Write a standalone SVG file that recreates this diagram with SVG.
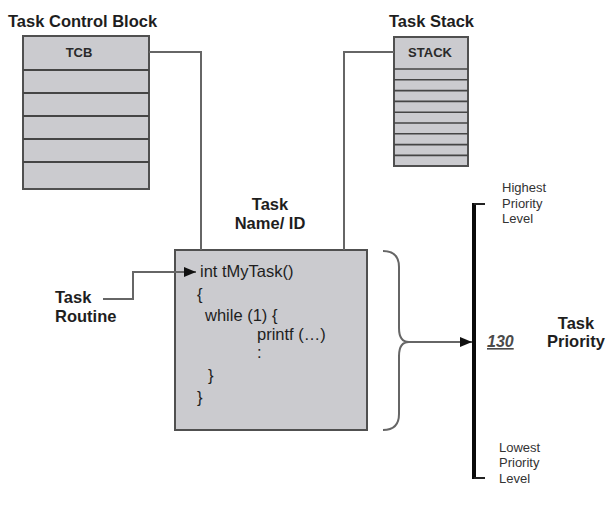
<svg xmlns="http://www.w3.org/2000/svg" width="611" height="523" viewBox="0 0 611 523">
<defs>
<style>
.b{font-family:"Liberation Sans",Arial,sans-serif;font-weight:bold;font-size:16.5px;fill:#1e1e1e}
.c{font-family:"Liberation Sans",Arial,sans-serif;font-size:16.5px;fill:#1e1e1e}
.s{font-family:"Liberation Sans",Arial,sans-serif;font-size:13px;fill:#333}
.h{font-family:"Liberation Sans",Arial,sans-serif;font-weight:bold;font-size:13px;fill:#2a2a2a}
.box{fill:#cbcbcf;stroke:#505050;stroke-width:2}
.row{stroke:#454545;stroke-width:2}
.srow{stroke:#454545;stroke-width:1.6}
.conn{fill:none;stroke:#666;stroke-width:2}
</style>
<marker id="arr" markerWidth="12" markerHeight="10" refX="12" refY="5" orient="auto" markerUnits="userSpaceOnUse">
<path d="M0,0 L12,5 L0,10 Z" fill="#111"/>
</marker>
</defs>
<rect width="611" height="523" fill="#fff"/>

<g id="tcb">
<text class="b" x="8" y="27">Task Control Block</text>
<rect class="box" x="23" y="36" width="126" height="153"/>
<line class="row" x1="23" y1="70" x2="149" y2="70"/>
<line class="row" x1="23" y1="93" x2="149" y2="93"/>
<line class="row" x1="23" y1="116" x2="149" y2="116"/>
<line class="row" x1="23" y1="139" x2="149" y2="139"/>
<line class="row" x1="23" y1="162" x2="149" y2="162"/>
<text class="h" x="79" y="57" text-anchor="middle">TCB</text>
</g>

<g id="stack">
<text class="b" x="389" y="27">Task Stack</text>
<rect class="box" x="394" y="37" width="74" height="129"/>
<line class="srow" x1="394" y1="69" x2="468" y2="69"/>
<line class="srow" x1="394" y1="79.8" x2="468" y2="79.8"/>
<line class="srow" x1="394" y1="90.6" x2="468" y2="90.6"/>
<line class="srow" x1="394" y1="101.4" x2="468" y2="101.4"/>
<line class="srow" x1="394" y1="112.2" x2="468" y2="112.2"/>
<line class="srow" x1="394" y1="123" x2="468" y2="123"/>
<line class="srow" x1="394" y1="133.8" x2="468" y2="133.8"/>
<line class="srow" x1="394" y1="144.6" x2="468" y2="144.6"/>
<line class="srow" x1="394" y1="155.4" x2="468" y2="155.4"/>
<text class="h" x="430" y="57" text-anchor="middle">STACK</text>
</g>

<g id="task-name">
<text class="b" x="270" y="210" text-anchor="middle">Task</text>
<text class="b" x="270" y="229" text-anchor="middle">Name/ ID</text>
</g>

<g id="task-routine-label">
<text class="b" x="55" y="303">Task</text>
<text class="b" x="55" y="322">Routine</text>
</g>

<g id="task-body">
<rect class="box" x="175" y="250" width="192" height="180"/>
<text class="c" x="200" y="277">int tMyTask()</text>
<text class="c" x="197" y="300">{</text>
<text class="c" x="205" y="321">while (1) {</text>
<text class="c" x="257" y="340">printf (…)</text>
<text class="c" x="257" y="358">:</text>
<text class="c" x="208" y="381">}</text>
<text class="c" x="197" y="403">}</text>
</g>

<g id="priority-scale">
<line x1="474" y1="203" x2="474" y2="479" stroke="#0a0a0a" stroke-width="4"/>
<line x1="474" y1="204" x2="485" y2="204" stroke="#222" stroke-width="2"/>
<line x1="474" y1="478" x2="485" y2="478" stroke="#222" stroke-width="2"/>
<text class="s" x="502" y="192">Highest</text>
<text class="s" x="502" y="208">Priority</text>
<text class="s" x="502" y="223">Level</text>
<text class="s" x="499" y="452">Lowest</text>
<text class="s" x="499" y="467">Priority</text>
<text class="s" x="499" y="483">Level</text>
<text x="487" y="347" font-family="Liberation Sans, Arial, sans-serif" font-size="16" font-weight="bold" font-style="italic" fill="#4a4a4a" text-decoration="underline">130</text>
</g>

<g id="task-priority-label">
<text class="b" x="576" y="329" text-anchor="middle">Task</text>
<text class="b" x="576" y="347" text-anchor="middle">Priority</text>
</g>

<g id="connectors">
<path class="conn" d="M149,52 H201 V250"/>
<path class="conn" d="M394,52 H344 V250"/>
<path class="conn" d="M103,299 H133 V272 H196" stroke="#555" marker-end="url(#arr)"/>
<path class="conn" d="M383,251 Q399,251 399,267 L399,328 Q399,342 409,342 Q399,342 399,356 L399,414 Q399,430 383,430" stroke="#555"/>
<path class="conn" d="M409,342 H472" stroke="#444" marker-end="url(#arr)"/>
</g>
</svg>
